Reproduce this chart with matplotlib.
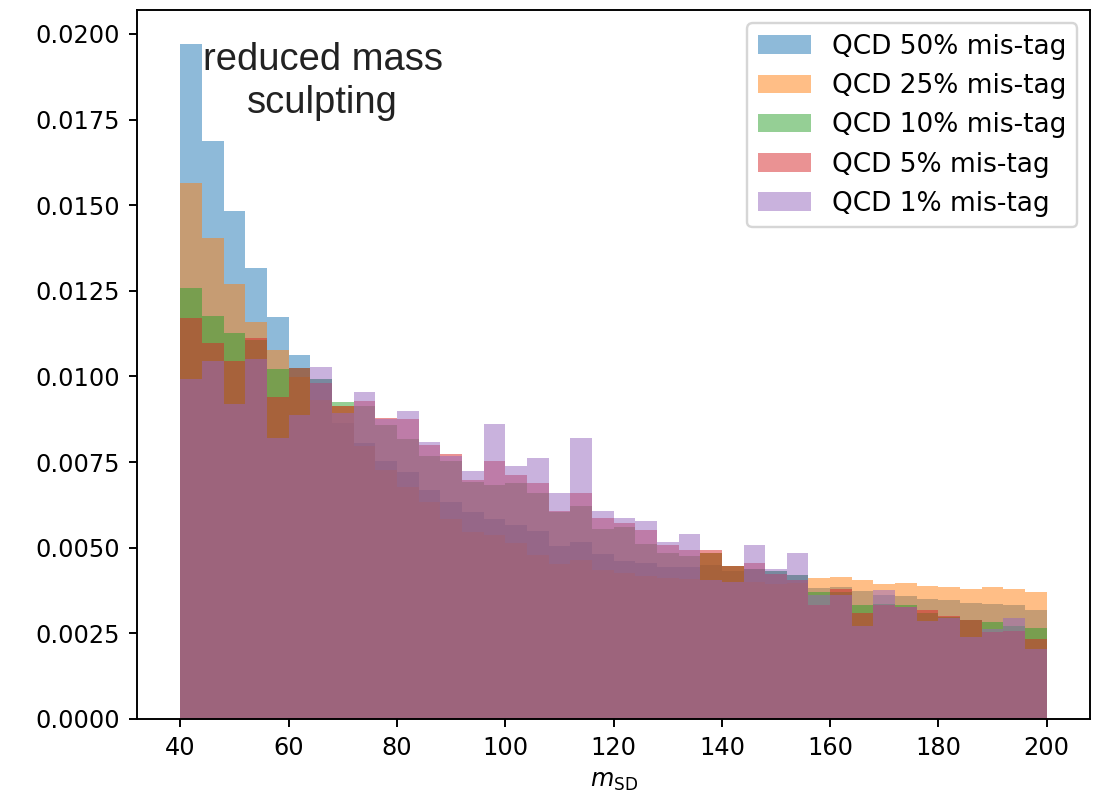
import matplotlib
matplotlib.use("Agg")
import matplotlib.pyplot as plt
import numpy as np

# soft-drop mass binning: 40 bins of 4 GeV between 40 and 200
bin_edges = np.linspace(40, 200, 41)
bin_centers = 0.5 * (bin_edges[:-1] + bin_edges[1:])

labels = ["QCD 50% mis-tag", "QCD 25% mis-tag", "QCD 10% mis-tag",
          "QCD 5% mis-tag", "QCD 1% mis-tag"]

# normalised counts per bin for each working point
qcd_50 = [0.01971, 0.01688, 0.01483, 0.01318, 0.01174, 0.01063, 0.00993, 0.00863,
          0.00806, 0.00753, 0.00722, 0.00669, 0.00632, 0.00604, 0.00584, 0.00566,
          0.00549, 0.00505, 0.00517, 0.00482, 0.00461, 0.00455, 0.00444, 0.00444,
          0.00450, 0.00432, 0.00438, 0.00432, 0.00420, 0.00383, 0.00385, 0.00374,
          0.00362, 0.00359, 0.00350, 0.00347, 0.00339, 0.00336, 0.00333, 0.00318]
qcd_25 = [0.01565, 0.01405, 0.01270, 0.01160, 0.01077, 0.00997, 0.00931, 0.00914,
          0.00797, 0.00727, 0.00678, 0.00632, 0.00584, 0.00546, 0.00537, 0.00515,
          0.00479, 0.00453, 0.00464, 0.00435, 0.00426, 0.00418, 0.00412, 0.00409,
          0.00484, 0.00447, 0.00400, 0.00394, 0.00397, 0.00412, 0.00415, 0.00406,
          0.00394, 0.00397, 0.00388, 0.00385, 0.00380, 0.00385, 0.00380, 0.00371]
qcd_10 = [0.01259, 0.01177, 0.01127, 0.01107, 0.01022, 0.01025, 0.00993, 0.00926,
          0.00914, 0.00858, 0.00818, 0.00768, 0.00753, 0.00692, 0.00683, 0.00689,
          0.00660, 0.00605, 0.00622, 0.00555, 0.00561, 0.00511, 0.00485, 0.00476,
          0.00484, 0.00447, 0.00438, 0.00432, 0.00420, 0.00371, 0.00371, 0.00333,
          0.00336, 0.00333, 0.00310, 0.00297, 0.00289, 0.00283, 0.00272, 0.00266]
qcd_5 = [0.01172, 0.01098, 0.01045, 0.01112, 0.00941, 0.01025, 0.00981, 0.00914,
         0.00928, 0.00879, 0.00876, 0.00800, 0.00774, 0.00698, 0.00753, 0.00712,
         0.00689, 0.00607, 0.00660, 0.00587, 0.00572, 0.00552, 0.00508, 0.00493,
         0.00493, 0.00447, 0.00455, 0.00423, 0.00406, 0.00333, 0.00380, 0.00309,
         0.00333, 0.00327, 0.00318, 0.00301, 0.00289, 0.00254, 0.00257, 0.00234]
qcd_1 = [0.00993, 0.01045, 0.00920, 0.01051, 0.00821, 0.00886, 0.01028, 0.00893,
         0.00955, 0.00876, 0.00899, 0.00809, 0.00768, 0.00724, 0.00861, 0.00739,
         0.00762, 0.00660, 0.00820, 0.00607, 0.00587, 0.00578, 0.00517, 0.00540,
         0.00406, 0.00400, 0.00508, 0.00438, 0.00485, 0.00362, 0.00362, 0.00272,
         0.00377, 0.00327, 0.00286, 0.00295, 0.00240, 0.00263, 0.00295, 0.00204]

series = [qcd_50, qcd_25, qcd_10, qcd_5, qcd_1]

fig = plt.figure(figsize=(1107 / 173, 801 / 173), dpi=173)
ax = fig.add_axes([0.1238, 0.1024, 0.8609, 0.885])

for vals, lab in zip(series, labels):
    ax.hist(bin_centers, bins=bin_edges, weights=vals, alpha=0.5, label=lab)

ax.set_xlabel(r"$m_{\rm SD}$")
ax.legend(loc="upper right", fontsize=11)

ax.text(66.3, 0.01975, "reduced mass\nsculpting", ha="center", va="top",
        multialignment="center", fontsize=15.9, family="Liberation Sans",
        color="#222222", linespacing=1.22)

fig.savefig("out.png", dpi=173)
